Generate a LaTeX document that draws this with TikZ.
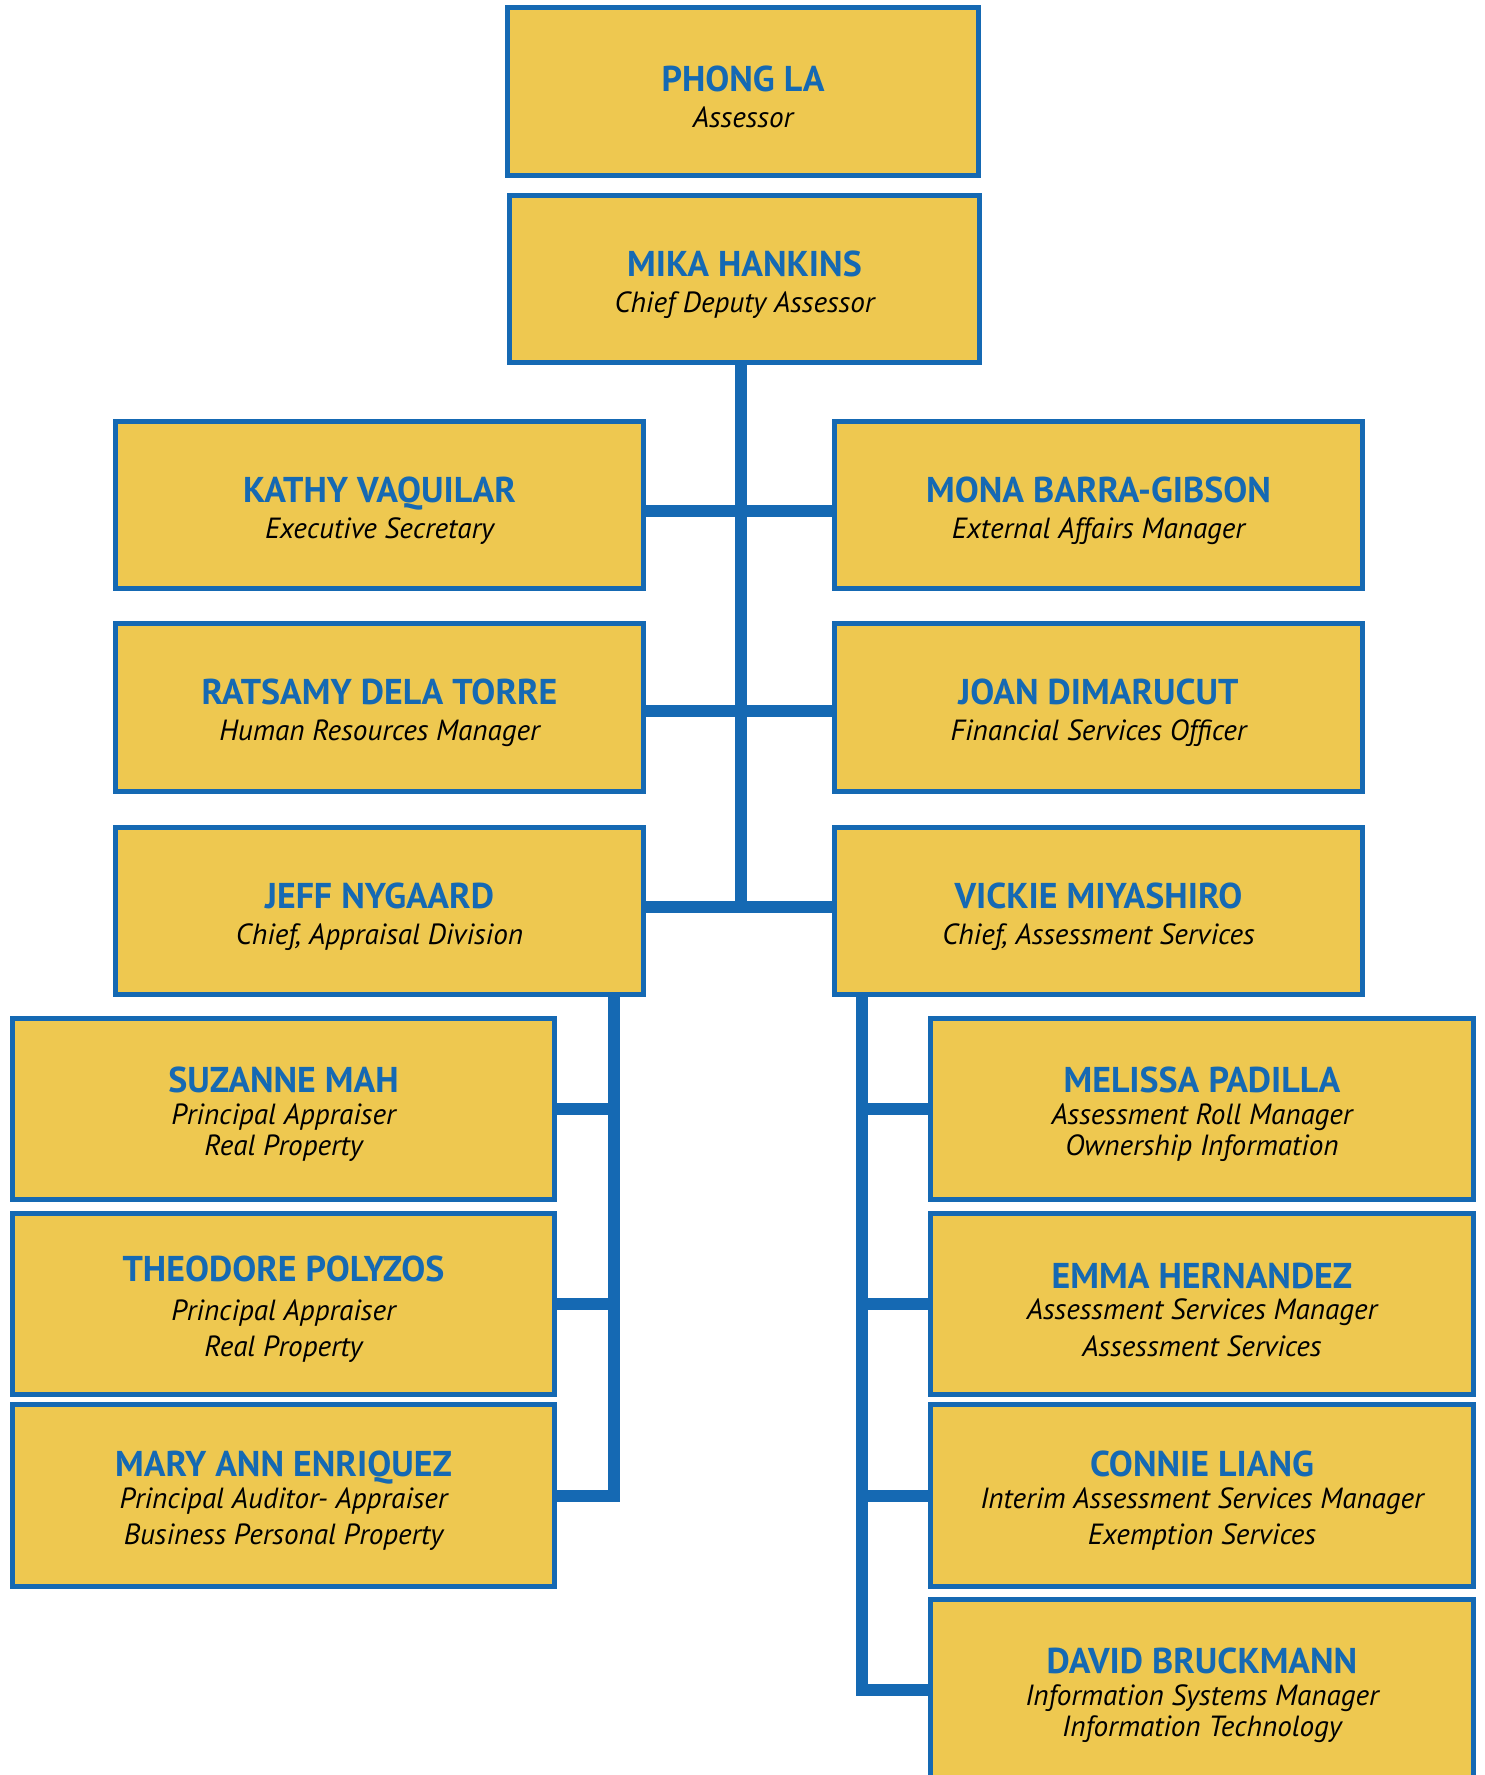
\documentclass[tikz,border=0pt]{standalone}
\usepackage{fontspec}
\setmainfont{PT Sans}
\definecolor{boxfill}{HTML}{EEC850}
\definecolor{orgblue}{HTML}{1569B3}
\newcommand{\who}[1]{{\fontsize{10.2}{12}\selectfont\bfseries\color{orgblue}\rule{0pt}{10.4pt}#1}}
\newcommand{\what}[1]{{\itshape #1}}

\begin{document}
\begin{tikzpicture}[x=0.01cm, y=-0.01cm,
    person/.style={draw=orgblue, fill=boxfill, line width=0.05cm, align=center,
      inner sep=0pt, font=\fontsize{8.3}{9}\selectfont},
    upper/.style={person, minimum width=4.7cm, minimum height=1.67cm},
    middle/.style={person, minimum width=5.28cm, minimum height=1.67cm},
    lower/.style={person, minimum width=5.42cm, minimum height=1.81cm},
    link/.style={draw=orgblue, line width=0.12cm, line join=miter}]
    \useasboundingbox (0,0) rectangle (1485,1775);
    % top two boxes
    \node[upper] (phong) at (743,91.5) {\who{PHONG LA}\\[1.3pt]\what{Assessor}};
    \node[upper] (mika) at (744.5,279) {\who{MIKA HANKINS}\\[1.3pt]\what{Chief Deputy Assessor}};
    % staff pairs
    \node[middle] (kathy) at (379.5,505) {\who{KATHY VAQUILAR}\\[1.3pt]\what{Executive Secretary}};
    \node[middle] (mona) at (1098.5,505) {\who{MONA BARRA-GIBSON}\\[1.3pt]\what{External Affairs Manager}};
    \node[middle] (ratsamy) at (379.5,707.5) {\who{RATSAMY DELA TORRE}\\[1.3pt]\what{Human Resources Manager}};
    \node[middle] (joan) at (1098.5,707.5) {\who{JOAN DIMARUCUT}\\[1.3pt]\what{Financial Services Officer}};
    \node[middle] (jeff) at (379.5,911) {\who{JEFF NYGAARD}\\[1.3pt]\what{Chief, Appraisal Division}};
    \node[middle] (vickie) at (1098.5,911) {\who{VICKIE MIYASHIRO}\\[1.3pt]\what{Chief, Assessment Services}};
    % appraisal division
    \node[lower] (suzanne) at (283.5,1109) {\who{SUZANNE MAH}\\\what{Principal Appraiser}\\\what{Real Property}};
    \node[lower] (theodore) at (283.5,1304) {\who{THEODORE POLYZOS}\\[2pt]\what{Principal Appraiser}\\[1.3pt]\what{Real Property}};
    \node[lower] (mary) at (283.5,1495.5) {\who{MARY ANN ENRIQUEZ}\\\what{Principal Auditor- Appraiser}\\[1.3pt]\what{Business Personal Property}};
    % assessment services
    \node[lower] (melissa) at (1202,1109) {\who{MELISSA PADILLA}\\\what{Assessment Roll Manager}\\\what{Ownership Information}};
    \node[lower] (emma) at (1202,1304) {\who{EMMA HERNANDEZ}\\\what{Assessment Services Manager}\\[1.3pt]\what{Assessment Services}};
    \node[lower] (connie) at (1202,1495.5) {\who{CONNIE LIANG}\\\what{Interim Assessment Services Manager}\\[1.3pt]\what{Exemption Services}};
    \node[lower] (david) at (1202,1690) {\who{DAVID BRUCKMANN}\\\what{Information Systems Manager}\\\what{Information Technology}};
    % connectors
    \coordinate (trunk) at ([xshift=-0.04cm]mika.south);
    \draw[link] (trunk) -- (trunk |- jeff.east);
    \draw[link] ([yshift=-0.055cm]kathy.east) -- ([yshift=-0.055cm]mona.west);
    \draw[link] ([yshift=-0.035cm]ratsamy.east) -- ([yshift=-0.035cm]joan.west);
    \draw[link] ([yshift=0.04cm]jeff.east) -- ([yshift=0.04cm]vickie.west);
    \coordinate (jtrunk) at ([xshift=-0.32cm]jeff.south east);
    \coordinate (vtrunk) at ([xshift=0.30cm]vickie.south west);
    \draw[link] (jtrunk) |- (mary.east);
    \foreach \n in {suzanne,theodore}
      \draw[link] (\n.east) -- (\n.east -| jtrunk);
    \draw[link] (vtrunk) |- (david.west);
    \foreach \n in {melissa,emma,connie}
      \draw[link] (\n.west) -- (\n.west -| vtrunk);
\end{tikzpicture}
\end{document}
